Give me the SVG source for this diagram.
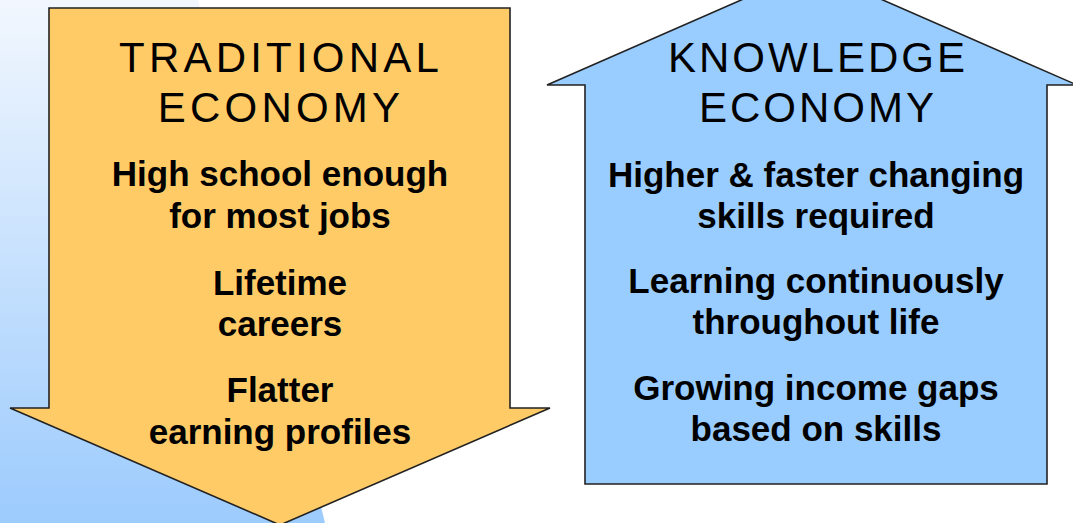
<svg xmlns="http://www.w3.org/2000/svg" width="1073" height="523" viewBox="0 0 1073 523">
<defs>
<linearGradient id="bg" x1="0" y1="0" x2="0" y2="1">
<stop offset="0" stop-color="#f2f7fe"/>
<stop offset="1" stop-color="#9ccbfd"/>
</linearGradient>
<style>
.shape{stroke:#222;stroke-width:1.6;stroke-linejoin:miter}
.title{font-family:"Liberation Sans",Arial,sans-serif;font-size:42px;fill:#000;text-anchor:middle}
.item{font-family:"Liberation Sans",Arial,sans-serif;font-size:35px;font-weight:bold;fill:#000;text-anchor:middle}
</style>
</defs>
<rect width="1073" height="523" fill="#fff"/>
<polygon points="0,0 198,0 325,523 0,523" fill="url(#bg)"/>
<g id="traditional">
<polygon class="shape" fill="#fecb66" points="49,8 510,8 510,408 550,408 280,525 10,408 49,408"/>
<text class="title" x="281" y="72" letter-spacing="4.2">TRADITIONAL</text>
<text class="title" x="281" y="122" letter-spacing="4.2">ECONOMY</text>
<text class="item" x="280" y="186">High school enough</text>
<text class="item" x="280" y="228">for most jobs</text>
<text class="item" x="280" y="295">Lifetime</text>
<text class="item" x="280" y="336">careers</text>
<text class="item" x="280" y="402">Flatter</text>
<text class="item" x="280" y="444">earning profiles</text>
</g>
<g id="knowledge">
<polygon class="shape" fill="#99ccff" points="585,85 547,85 812,-31 1077,85 1047,85 1047,484 585,484"/>
<text class="title" x="818" y="72" letter-spacing="3">KNOWLEDGE</text>
<text class="title" x="818" y="122" letter-spacing="3">ECONOMY</text>
<text class="item" x="816" y="187">Higher &amp; faster changing</text>
<text class="item" x="816" y="228">skills required</text>
<text class="item" x="816" y="293">Learning continuously</text>
<text class="item" x="816" y="334">throughout life</text>
<text class="item" x="816" y="400">Growing income gaps</text>
<text class="item" x="816" y="441">based on skills</text>
</g>
<g id="connectors"/>
</svg>
